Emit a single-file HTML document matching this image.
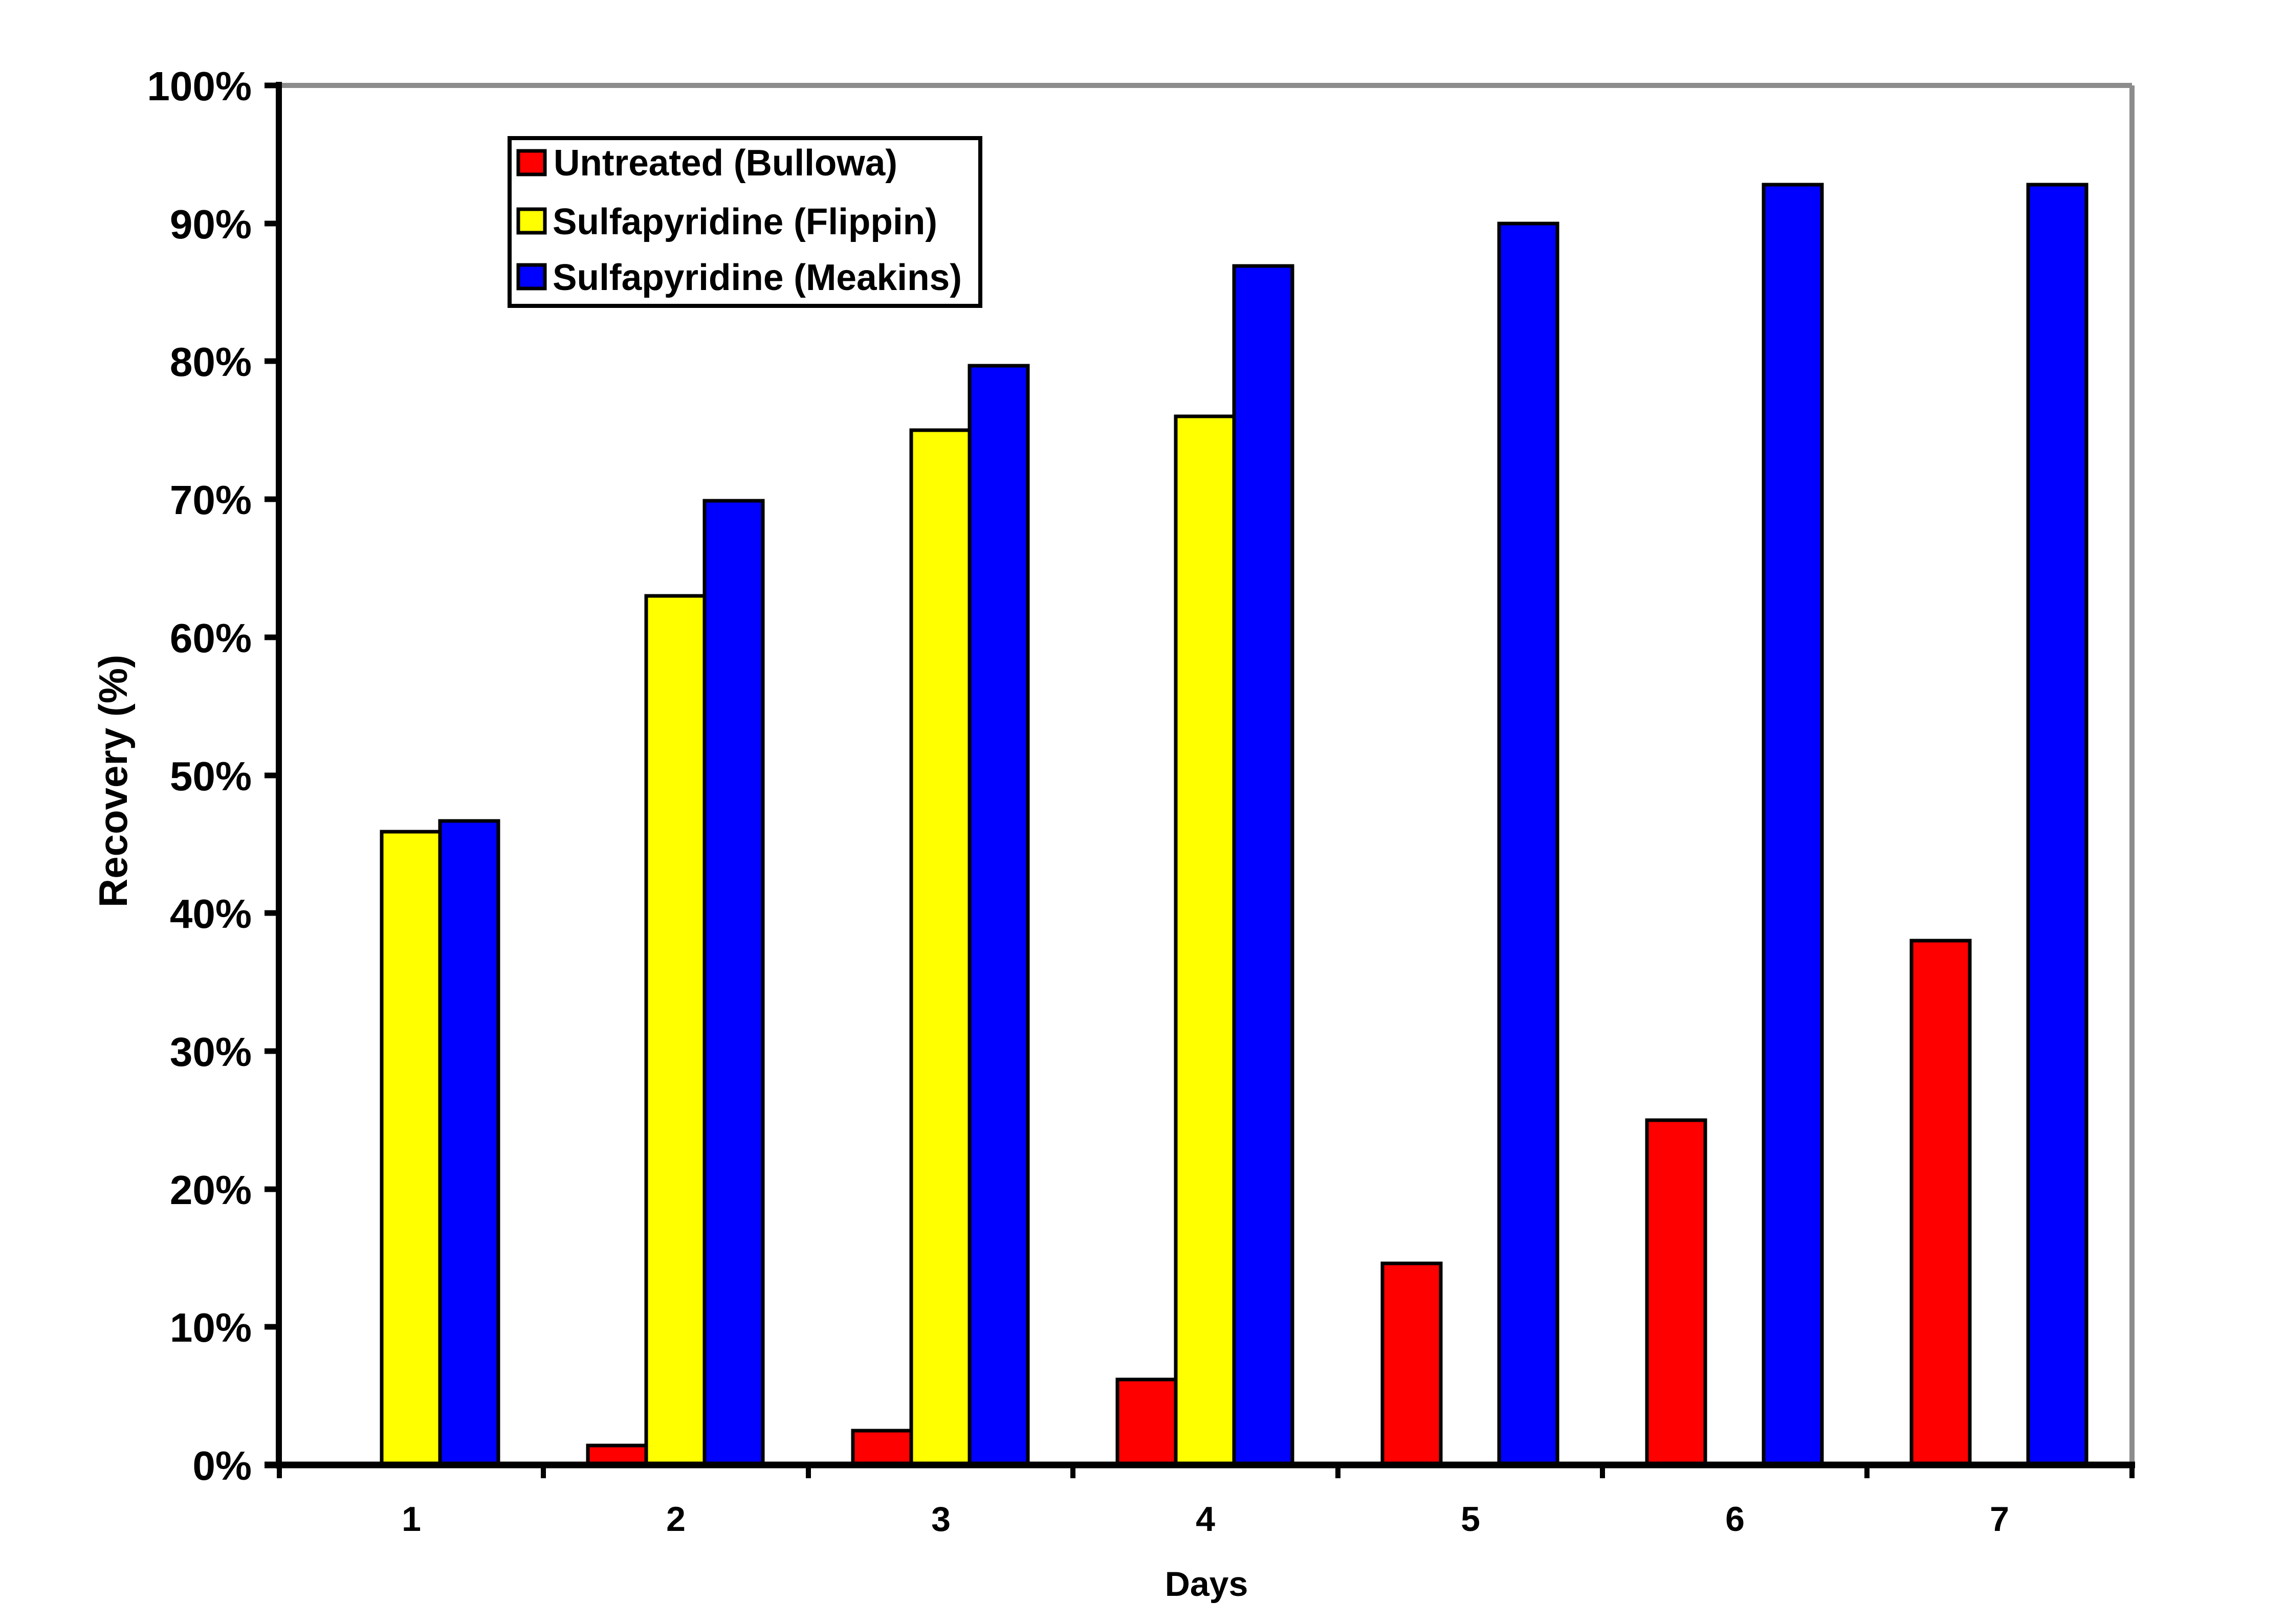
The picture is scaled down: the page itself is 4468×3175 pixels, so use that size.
<!DOCTYPE html>
<html><head><meta charset="utf-8"><style>html,body{margin:0;padding:0;background:#fff}svg{display:block}</style></head>
<body>
<svg width="4468" height="3175" viewBox="0 0 4468 3175" xmlns="http://www.w3.org/2000/svg" font-family="'Liberation Sans', Arial, sans-serif" font-weight="bold">
<rect width="4468" height="3175" fill="#fff"/>
<line x1="545" y1="167" x2="4167" y2="167" stroke="#8c8c8c" stroke-width="10"/>
<line x1="4167" y1="167" x2="4167" y2="2864" stroke="#8c8c8c" stroke-width="10"/>
<g stroke="#000" stroke-width="7" transform="translate(5,0)">
<rect x="741" y="1626" width="114" height="1238" fill="#ffff00"/>
<rect x="855" y="1605" width="114" height="1259" fill="#0000ff"/>
<rect x="1144" y="2826" width="114" height="38" fill="#ff0000"/>
<rect x="1258" y="1165" width="114" height="1699" fill="#ffff00"/>
<rect x="1372" y="979" width="114" height="1885" fill="#0000ff"/>
<rect x="1662" y="2797" width="114" height="67" fill="#ff0000"/>
<rect x="1776" y="841" width="114" height="2023" fill="#ffff00"/>
<rect x="1890" y="715" width="114" height="2149" fill="#0000ff"/>
<rect x="2179" y="2697" width="114" height="167" fill="#ff0000"/>
<rect x="2293" y="814" width="114" height="2050" fill="#ffff00"/>
<rect x="2407" y="520" width="114" height="2344" fill="#0000ff"/>
<rect x="2697" y="2470" width="114" height="394" fill="#ff0000"/>
<rect x="2925" y="437" width="114" height="2427" fill="#0000ff"/>
<rect x="3214" y="2190" width="114" height="674" fill="#ff0000"/>
<rect x="3442" y="361" width="114" height="2503" fill="#0000ff"/>
<rect x="3731" y="1839" width="114" height="1025" fill="#ff0000"/>
<rect x="3959" y="361" width="114" height="2503" fill="#0000ff"/>
</g>
<line x1="545" y1="160" x2="545" y2="2871" stroke="#000" stroke-width="12"/>
<line x1="517" y1="2864" x2="4173" y2="2864" stroke="#000" stroke-width="13"/>
<g stroke="#000" stroke-width="11">
<line x1="517" y1="167" x2="545" y2="167"/><line x1="517" y1="437" x2="545" y2="437"/>
<line x1="517" y1="706" x2="545" y2="706"/><line x1="517" y1="976" x2="545" y2="976"/>
<line x1="517" y1="1246" x2="545" y2="1246"/><line x1="517" y1="1516" x2="545" y2="1516"/>
<line x1="517" y1="1785" x2="545" y2="1785"/><line x1="517" y1="2055" x2="545" y2="2055"/>
<line x1="517" y1="2325" x2="545" y2="2325"/><line x1="517" y1="2594" x2="545" y2="2594"/>
</g>
<g stroke="#000" stroke-width="10">
<line x1="546" y1="2864" x2="546" y2="2890"/><line x1="1062" y1="2864" x2="1062" y2="2890"/>
<line x1="1580" y1="2864" x2="1580" y2="2890"/><line x1="2097" y1="2864" x2="2097" y2="2890"/>
<line x1="2615" y1="2864" x2="2615" y2="2890"/><line x1="3132" y1="2864" x2="3132" y2="2890"/>
<line x1="3649" y1="2864" x2="3649" y2="2890"/><line x1="4167" y1="2864" x2="4167" y2="2890"/>
</g>
<g font-size="80" text-anchor="end">
<text x="492" y="196">100%</text><text x="492" y="466">90%</text><text x="492" y="735">80%</text>
<text x="492" y="1005">70%</text><text x="492" y="1275">60%</text><text x="492" y="1545">50%</text>
<text x="492" y="1814">40%</text><text x="492" y="2084">30%</text><text x="492" y="2354">20%</text>
<text x="492" y="2623">10%</text><text x="492" y="2893">0%</text>
</g>
<g font-size="68" text-anchor="middle">
<text x="804" y="2993">1</text><text x="1321" y="2993">2</text><text x="1839" y="2993">3</text>
<text x="2356" y="2993">4</text><text x="2874" y="2993">5</text><text x="3391" y="2993">6</text>
<text x="3908" y="2993">7</text>
<text x="2358" y="3120">Days</text>
<text font-size="78" transform="translate(248,1527) rotate(-90)">Recovery (%)</text>
</g>
<rect x="996" y="270" width="920" height="328" fill="#fff" stroke="#000" stroke-width="8"/>
<rect x="1013" y="295" width="52" height="46" fill="#ff0000" stroke="#000" stroke-width="7"/>
<rect x="1013" y="409" width="52" height="46" fill="#ffff00" stroke="#000" stroke-width="7"/>
<rect x="1013" y="518" width="52" height="46" fill="#0000ff" stroke="#000" stroke-width="7"/>
<g font-size="72">
<text x="1082" y="343" textLength="672" lengthAdjust="spacingAndGlyphs">Untreated (Bullowa)</text>
<text x="1080" y="458" textLength="752" lengthAdjust="spacingAndGlyphs">Sulfapyridine (Flippin)</text>
<text x="1080" y="567" textLength="800" lengthAdjust="spacingAndGlyphs">Sulfapyridine (Meakins)</text>
</g>
</svg>
</body></html>
